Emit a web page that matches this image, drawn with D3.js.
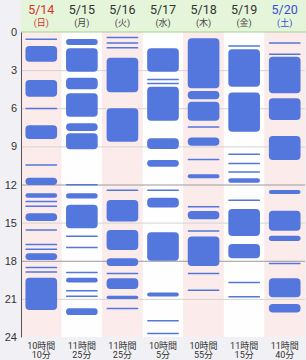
<!DOCTYPE html>
<html>
<head>
<meta charset="utf-8">
<script src="https://cdn.jsdelivr.net/npm/d3@7"></script>
<style>
  body { margin: 0; background: #f1f1f5; }
  svg { display: block; font-family: Roboto, "Noto Sans CJK JP", sans-serif; }
</style>
</head>
<body>
<svg id="chart" width="306" height="360"></svg>
<script>
// dates / weekdays on the header
const days = ['5/14', '5/15', '5/16', '5/17', '5/18', '5/19', '5/20']
const weekdays = ['(日)', '(月)', '(火)', '(水)', '(木)', '(金)', '(土)']
// total sleep per day (two lines under each column)
const totalHours = ['10時間', '11時間', '11時間', '10時間', '10時間', '11時間', '11時間']
const totalMins = ['10分', '25分', '25分', '5分', '55分', '15分', '40分']
const hourTicks = [0, 3, 6, 9, 12, 15, 18, 21, 24]

// sleep periods [start hour, end hour], very short ones show up as thin lines
const sleep0514 = [[0.52, 0.6], [1.1, 2.34], [3.78, 5.09], [5.97, 6.05], [7.34, 8.42], [10.4, 10.48],
  [11.46, 12.04], [12.69, 13.04], [13.27, 13.35], [13.66, 13.74], [14.27, 14.87], [15.52, 15.64],
  [16.66, 16.74], [17.03, 17.11], [17.41, 17.94], [18.47, 18.55], [18.82, 18.9], [19.33, 21.87]]
const sleep0515 = [[0.55, 1.02], [1.28, 3.12], [3.6, 4.5], [4.82, 6.66], [7.18, 7.79], [7.97, 9.23],
  [11.97, 12.05], [12.69, 13.1], [13.6, 15.45], [16.02, 16.1], [16.9, 16.98], [18.86, 18.94],
  [19.33, 19.72], [20.31, 20.39], [20.73, 20.81], [21.74, 22.27]]
const sleep0516 = [[0.38, 0.46], [0.8, 0.88], [1.19, 1.27], [2.02, 4.75], [6.0, 8.63], [12.39, 12.47],
  [13.22, 14.92], [15.58, 17.15], [17.8, 18.41], [18.95, 19.03], [19.38, 20.22], [20.75, 21.0],
  [21.7, 21.78]]
const sleep0517 = [[1.28, 3.12], [3.68, 3.76], [4.0, 4.08], [4.3, 6.98], [8.36, 9.2], [10.07, 10.6],
  [12.39, 12.47], [13.04, 13.8], [15.76, 18.0], [20.5, 20.82], [22.67, 22.75], [23.66, 23.74]]
const sleep0518 = [[0.5, 4.43], [4.64, 5.3], [5.48, 6.98], [7.41, 7.49], [8.3, 8.95], [9.98, 10.06],
  [11.2, 11.5], [13.7, 13.78], [14.08, 14.74], [15.6, 15.68], [16.1, 18.41], [18.95, 19.03],
  [20.26, 20.34]]
const sleep0519 = [[1.04, 1.12], [1.36, 4.3], [4.77, 7.84], [9.56, 9.64], [10.29, 10.37], [10.95, 11.03],
  [11.51, 11.86], [13.18, 13.26], [13.93, 16.05], [16.68, 17.8], [19.66, 19.74], [20.78, 20.86]]
const sleep0520 = [[0.8, 0.88], [1.69, 1.77], [1.94, 4.82], [5.22, 6.92], [8.18, 10.07], [12.43, 12.75],
  [14.06, 15.63], [16.03, 16.44], [18.16, 18.24], [19.38, 20.87], [21.4, 22.08]]
const sleepByDay = [sleep0514, sleep0515, sleep0516, sleep0517, sleep0518, sleep0519, sleep0520]

const svg = d3.select('#chart')
const W = 306
const mLeft = 21, mRight = 305, mTop = 32, mBottom = 337

const xCol = d3.scaleBand().domain(d3.range(days.length)).range([mLeft, mRight])
const xBar = d3.scaleBand().domain(d3.range(days.length)).range([mLeft, mRight]).paddingInner(0.22).paddingOuter(0.11)
const y = d3.scaleLinear().domain([0, 24]).range([mTop, mBottom])

// header background
svg.append('rect').attr('x', mLeft).attr('y', 0).attr('width', W - mLeft).attr('height', mTop)
  .attr('fill', '#e4f5d9')

// column backgrounds, pink / white alternating
svg.append('g').selectAll('rect').data(days).join('rect')
  .attr('x', (d, i) => xCol(i)).attr('y', mTop)
  .attr('width', xCol.bandwidth()).attr('height', mBottom - mTop)
  .attr('fill', (d, i) => i % 2 === 0 ? '#fcebeb' : '#fefefe')

svg.append('line').attr('x1', mLeft).attr('x2', W).attr('y1', mTop).attr('y2', mTop)
  .attr('stroke', '#a9cf94').attr('stroke-width', 1)

// grid
svg.append('g').selectAll('line').data(hourTicks.slice(1, -1)).join('line')
  .attr('x1', mLeft).attr('x2', mRight)
  .attr('y1', d => y(d) + 0.5).attr('y2', d => y(d) + 0.5)
  .attr('stroke', d => (d === 12 || d === 18) ? '#9a9a9a' : '#d4d4d4')
  .attr('stroke-width', 1)

// y axis
const yAxis = svg.append('g').attr('transform', `translate(${mLeft},0)`)
  .call(d3.axisLeft(y).tickValues(hourTicks).tickSize(0).tickPadding(4))
yAxis.select('.domain').attr('stroke', '#555')
yAxis.selectAll('text').attr('font-size', 11).attr('fill', '#333')

// sleep bars
const bars = svg.append('g')
sleepByDay.forEach(function (periods, i) {
  bars.selectAll(null).data(periods).join('rect')
    .attr('x', xBar(i)).attr('width', xBar.bandwidth())
    .attr('y', d => y(d[0]))
    .attr('height', d => Math.max(1.5, y(d[1]) - y(d[0])))
    .attr('rx', d => Math.min(4, (y(d[1]) - y(d[0])) / 2))
    .attr('fill', '#5377dc')
})

// header labels
const header = svg.append('g')
header.selectAll('.date').data(days).join('text').attr('class', 'date')
  .attr('x', (d, i) => xCol(i) + xCol.bandwidth() / 2).attr('y', 14)
  .attr('text-anchor', 'middle').attr('font-size', 12.5)
  .attr('fill', (d, i) => i === 0 ? '#e0302c' : i === 6 ? '#3a4fd6' : '#333')
  .text(d => d)
header.selectAll('.wday').data(weekdays).join('text').attr('class', 'wday')
  .attr('x', (d, i) => xCol(i) + xCol.bandwidth() / 2).attr('y', 26)
  .attr('text-anchor', 'middle').attr('font-size', 9)
  .attr('fill', (d, i) => i === 0 ? '#e0302c' : i === 6 ? '#3a4fd6' : '#444')
  .text(d => d)

// totals under the columns
const foot = svg.append('g')
foot.selectAll('.th').data(totalHours).join('text').attr('class', 'th')
  .attr('x', (d, i) => xCol(i) + xCol.bandwidth() / 2).attr('y', 349)
  .attr('text-anchor', 'middle').attr('font-size', 9).attr('fill', '#333')
  .text(d => d)
foot.selectAll('.tm').data(totalMins).join('text').attr('class', 'tm')
  .attr('x', (d, i) => xCol(i) + xCol.bandwidth() / 2).attr('y', 358)
  .attr('text-anchor', 'middle').attr('font-size', 9).attr('fill', '#333')
  .text(d => d)
</script>
</body>
</html>
